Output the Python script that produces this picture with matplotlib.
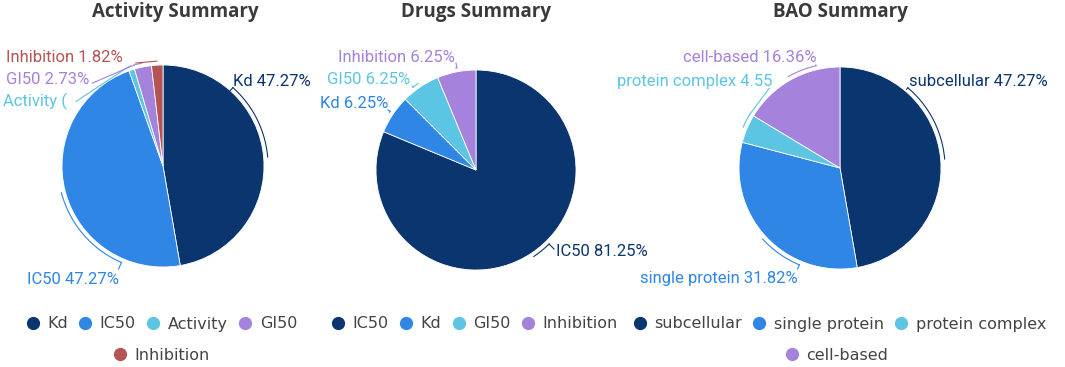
import numpy as np
import matplotlib.pyplot as plt
from matplotlib.lines import Line2D

# data
act_names = ["Kd", "IC50", "Activity", "GI50", "Inhibition"]
act_vals = [47.27, 47.27, 0.91, 2.73, 1.82]
act_labels = ["Kd 47.27%", "IC50 47.27%", "Activity (", "GI50 2.73%", "Inhibition 1.82%"]

drug_names = ["IC50", "Kd", "GI50", "Inhibition"]
drug_vals = [81.25, 6.25, 6.25, 6.25]
drug_labels = ["IC50 81.25%", "Kd 6.25%", "GI50 6.25%", "Inhibition 6.25%"]

bao_names = ["subcellular", "single protein", "protein complex", "cell-based"]
bao_vals = [47.27, 31.82, 4.55, 16.36]
bao_labels = ["subcellular 47.27%", "single protein 31.82%", "protein complex 4.55", "cell-based 16.36%"]

navy, blue, cyan, purple, red = "#0b356e", "#2f86e4", "#5cc5e3", "#a582dc", "#b65454"
act_colors = [navy, blue, cyan, purple, red]
drug_colors = [navy, blue, cyan, purple]
bao_colors = [navy, blue, cyan, purple]

W, H = 1065, 367
fig = plt.figure(figsize=(W / 100, H / 100), dpi=100)

lab_font = "Roboto"
leg_font = "DejaVu Sans"


def pie_axes(cx, cy, r):
    return fig.add_axes([(cx - r) / W, (H - cy - r) / H, 2 * r / W, 2 * r / H])


def draw_pie(ax, vals, colors, labels, text_pos, anchors):
    wedges, _ = ax.pie(vals, colors=colors, startangle=90, counterclock=False,
                       wedgeprops=dict(edgecolor="white", linewidth=0.6))
    ax.set_xlim(-1, 1)
    ax.set_ylim(-1, 1)
    ax.set_aspect("equal")
    ax.axis("off")
    for w, lab, (tx, ty, ha), (axx, ayy), c in zip(wedges, labels, text_pos, anchors, colors):
        t1, t2 = sorted([w.theta1, w.theta2])
        mid = (t1 + t2) / 2
        al = np.degrees(np.arctan2(ayy, axx)) % 360
        # pick the equivalent angle nearest the slice middle
        while al - mid > 180:
            al -= 360
        while mid - al > 180:
            al += 360
        end = min(max(al, t1 + 0.5), t2 - 0.5)
        angs = np.radians(np.linspace(mid, end, 40))
        rr = 1.04
        ax.plot(rr * np.cos(angs), rr * np.sin(angs), color=c, lw=0.8, clip_on=False)
        ax.plot([rr * np.cos(angs[-1]), axx], [rr * np.sin(angs[-1]), ayy],
                color=c, lw=0.8, clip_on=False)
        ax.text(tx, ty, lab, color=c, ha=ha, va="center", fontsize=12,
                family=lab_font, clip_on=False)
    return wedges


# Activity
ax1 = pie_axes(163, 166, 101)
draw_pie(ax1, act_vals, act_colors, act_labels,
         [(0.69, 0.84, "left"), (-0.44, -1.12, "right"), (-1.58, 0.64, "left"),
          (-1.55, 0.86, "left"), (-1.55, 1.07, "left")],
         [(0.66, 0.74), (-0.44, -1.02), (-0.86, 0.64), (-0.70, 0.82), (-0.27, 1.02)])

# Drugs
ax2 = pie_axes(476, 170, 100)
draw_pie(ax2, drug_vals, drug_colors, drug_labels,
         [(0.80, -0.82, "left"), (-0.88, 0.67, "right"), (-0.66, 0.90, "right"),
          (-0.21, 1.13, "right")],
         [(0.78, -0.79), (-0.88, 0.60), (-0.64, 0.84), (-0.20, 1.07)])

# BAO
ax3 = pie_axes(840, 168, 101)
draw_pie(ax3, bao_vals, bao_colors, bao_labels,
         [(0.68, 0.86, "left"), (-0.42, -1.09, "right"), (-0.67, 0.86, "right"),
          (-0.23, 1.09, "right")],
         [(0.66, 0.78), (-0.42, -1.00), (-0.70, 0.79), (-0.24, 1.02)])

# titles
for x, t in [(175, "Activity Summary"), (476, "Drugs Summary"), (840, "BAO Summary")]:
    fig.text(x / W, 1 - 12 / H, t, ha="center", va="center", fontsize=13.5,
             fontweight="bold", color="#3a3a3a", family="Open Sans")


def legend(names, colors, cx, cy):
    handles = [Line2D([], [], marker="o", ls="", color=c, markersize=8.5) for c in colors]
    fig.legend(handles, names, loc="center", bbox_to_anchor=(cx / W, 1 - cy / H),
               ncol=len(names), frameon=False, handletextpad=0.3, columnspacing=0.5,
               handlelength=1.2, prop=dict(family=leg_font, size=11.5),
               labelcolor="#444444")


legend(act_names[:4], act_colors[:4], 160, 324)
legend(act_names[4:], act_colors[4:], 160, 355)
legend(drug_names, drug_colors, 473, 324)
legend(bao_names[:3], bao_colors[:3], 838, 324)
legend(bao_names[3:], bao_colors[3:], 835, 355)

fig.savefig("out.png", dpi=100)
